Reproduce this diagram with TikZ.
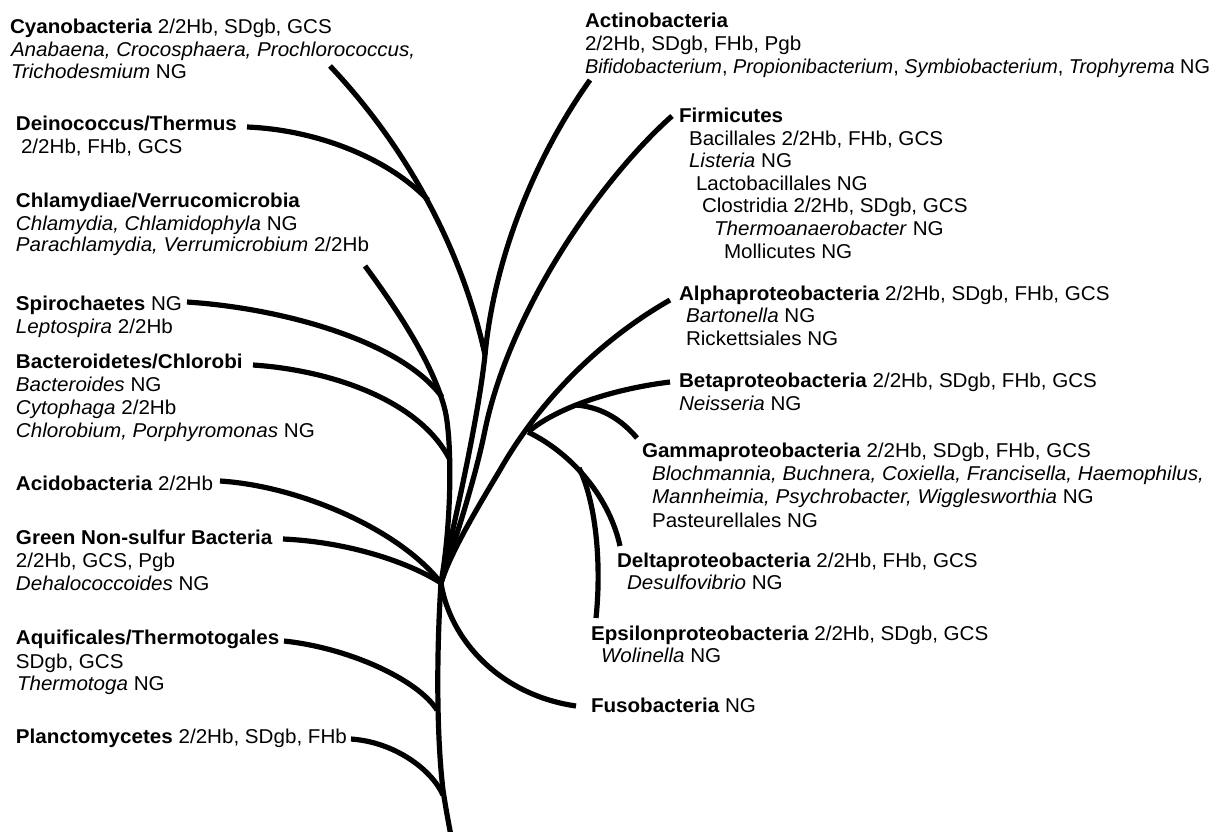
\documentclass[tikz,border=0pt]{standalone}
\usepackage{fontspec}
\setmainfont[FakeStretch=1.03]{Liberation Sans}
\begin{document}
\begin{tikzpicture}[x=1pt,y=-1pt,
  lbl/.style={anchor=base west,inner sep=0pt,outer sep=0pt,font=\fontsize{20}{23}\selectfont},
  branch/.style={line width=5.2pt,line cap=butt,line join=round,draw=black}]
\useasboundingbox (0,0) rectangle (1214,831);
% ---------- left labels ----------
\node[lbl] (cy1) at (10,33) {\textbf{Cyanobacteria} 2/2Hb, SDgb, GCS};
\node[lbl] (cy2) at (11,56) {\textit{Anabaena, Crocosphaera, Prochlorococcus,}};
\node[lbl] (cy3) at (11,78) {\textit{Trichodesmium} NG};
\node[lbl] (de1) at (16,130) {\textbf{Deinococcus/Thermus}};
\node[lbl] (de2) at (21,153) {2/2Hb, FHb, GCS};
\node[lbl] (ch1) at (16,207) {\textbf{Chlamydiae/Verrucomicrobia}};
\node[lbl] (ch2) at (16,230) {\textit{Chlamydia, Chlamidophyla} NG};
\node[lbl] (ch3) at (16,251) {\textit{Parachlamydia, Verrumicrobium} 2/2Hb};
\node[lbl] (sp1) at (16,310) {\textbf{Spirochaetes} NG};
\node[lbl] (sp2) at (16,333) {\textit{Leptospira} 2/2Hb};
\node[lbl] (ba1) at (16,368) {\textbf{Bacteroidetes/Chlorobi}};
\node[lbl] (ba2) at (16,391) {\textit{Bacteroides} NG};
\node[lbl] (ba3) at (16,414) {\textit{Cytophaga} 2/2Hb};
\node[lbl] (ba4) at (16,437) {\textit{Chlorobium, Porphyromonas} NG};
\node[lbl] (ac1) at (16,490) {\textbf{Acidobacteria} 2/2Hb};
\node[lbl] (gr1) at (16,544) {\textbf{Green Non-sulfur Bacteria}};
\node[lbl] (gr2) at (16,567) {2/2Hb, GCS, Pgb};
\node[lbl] (gr3) at (16,590) {\textit{Dehalococcoides} NG};
\node[lbl] (aq1) at (16,644) {\textbf{Aquificales/Thermotogales}};
\node[lbl] (aq2) at (16,668) {SDgb, GCS};
\node[lbl] (aq3) at (17,690) {\textit{Thermotoga} NG};
\node[lbl] (pl1) at (16,743) {\textbf{Planctomycetes} 2/2Hb, SDgb, FHb};
% ---------- right labels ----------
\node[lbl] (at1) at (585,27) {\textbf{Actinobacteria}};
\node[lbl] (at2) at (585,50) {2/2Hb, SDgb, FHb, Pgb};
\node[lbl] (at3) at (585,73) {\scalebox{0.965}[1]{\textit{Bifidobacterium}, \textit{Propionibacterium}, \textit{Symbiobacterium}, \textit{Trophyrema} NG}};
\node[lbl] (fi1) at (679,122) {\textbf{Firmicutes}};
\node[lbl] (fi2) at (689,145) {Bacillales 2/2Hb, FHb, GCS};
\node[lbl] (fi3) at (689,167) {\textit{Listeria} NG};
\node[lbl] (fi4) at (696,190) {Lactobacillales NG};
\node[lbl] (fi5) at (702,212) {Clostridia 2/2Hb, SDgb, GCS};
\node[lbl] (fi6) at (714,235) {\textit{Thermoanaerobacter} NG};
\node[lbl] (fi7) at (724,258) {Mollicutes NG};
\node[lbl] (al1) at (679,300) {\textbf{Alphaproteobacteria} 2/2Hb, SDgb, FHb, GCS};
\node[lbl] (al2) at (686,322) {\textit{Bartonella} NG};
\node[lbl] (al3) at (686,345) {Rickettsiales NG};
\node[lbl] (be1) at (679,387) {\textbf{Betaproteobacteria} 2/2Hb, SDgb, FHb, GCS};
\node[lbl] (be2) at (679,410) {\textit{Neisseria} NG};
\node[lbl] (ga1) at (642,457) {\textbf{Gammaproteobacteria} 2/2Hb, SDgb, FHb, GCS};
\node[lbl] (ga2) at (652,480) {\textit{Blochmannia, Buchnera, Coxiella, Francisella, Haemophilus,}};
\node[lbl] (ga3) at (652,503) {\textit{Mannheimia, Psychrobacter, Wigglesworthia} NG};
\node[lbl] (ga4) at (652,527) {Pasteurellales NG};
\node[lbl] (dl1) at (617,567) {\textbf{Deltaproteobacteria} 2/2Hb, FHb, GCS};
\node[lbl] (dl2) at (627,589) {\textit{Desulfovibrio} NG};
\node[lbl] (ep1) at (591,640) {\textbf{Epsilonproteobacteria} 2/2Hb, SDgb, GCS};
\node[lbl] (ep2) at (601,662) {\textit{Wolinella} NG};
\node[lbl] (fu1) at (591,712) {\textbf{Fusobacteria} NG};
% ---------- junction / tip coordinates ----------
\coordinate (R) at (441,583);
\coordinate (B) at (451,836);
\coordinate (tPl) at (351,739);
\coordinate (tAq) at (284,641);
\coordinate (tGr) at (283,539);
\coordinate (tAc) at (220,481);
\coordinate (tBa) at (253,365);
\coordinate (tSp) at (187,302);
\coordinate (tCh) at (365,266);
\coordinate (tDe) at (247,127);
\coordinate (tCy) at (330,66);
\coordinate (tAt) at (590,80);
\coordinate (tFi) at (672,116);
\coordinate (tAl) at (670,300);
\coordinate (tBe) at (670,382);
\coordinate (tGa) at (637,438);
\coordinate (tDl) at (620,546);
\coordinate (tEp) at (596,618);
\coordinate (tFu) at (576,706);
\coordinate (J4) at (485,355);
\coordinate (J5) at (528,432);
\coordinate (J6) at (576,405);
\coordinate (J7) at (579,468);
% ---------- branches ----------
% trunk
\draw[branch] (R) .. controls (436,660) and (437,740) .. (443,790) .. controls (446,810) and (449,825) .. (B);
\draw[branch] (tPl) .. controls (395,742) and (432,770) .. (443,795);
\draw[branch] (tAq) .. controls (350,648) and (418,680) .. (437,710);
\draw[branch] (tGr) .. controls (350,542) and (410,563) .. (R);
\draw[branch] (tAc) .. controls (300,486) and (400,530) .. (R);
% Chlamydiae / Spirochaetes / Bacteroidetes stem
\draw[branch] (tCh) .. controls (405,320) and (435,370) .. (445,410) .. controls (452,440) and (452,520) .. (R);
\draw[branch] (tSp) .. controls (280,308) and (400,340) .. (442,397);
\draw[branch] (tBa) .. controls (330,370) and (420,400) .. (450,460);
% Cyanobacteria / Deinococcus / Actinobacteria stem
\draw[branch] (tCy) .. controls (400,140) and (460,240) .. (J4);
\draw[branch] (tDe) .. controls (320,130) and (390,160) .. (428,200);
\draw[branch] (tAt) .. controls (540,150) and (495,250) .. (J4);
\draw[branch] (J4) .. controls (478,420) and (455,520) .. (R);
% Firmicutes
\draw[branch] (tFi) .. controls (600,180) and (510,310) .. (485,430) .. controls (475,480) and (455,540) .. (R);
% Proteobacteria
\draw[branch] (tAl) .. controls (600,340) and (540,400) .. (500,470) .. controls (470,520) and (450,555) .. (R);
\draw[branch] (tBe) .. controls (620,388) and (560,405) .. (J5);
\draw[branch] (tGa) .. controls (620,418) and (600,407) .. (J6);
\draw[branch] (J5) .. controls (575,455) and (610,500) .. (tDl);
\draw[branch] (J7) .. controls (595,500) and (602,560) .. (tEp);
% Fusobacteria
\draw[branch] (R) .. controls (450,640) and (500,695) .. (tFu);
\end{tikzpicture}
\end{document}
